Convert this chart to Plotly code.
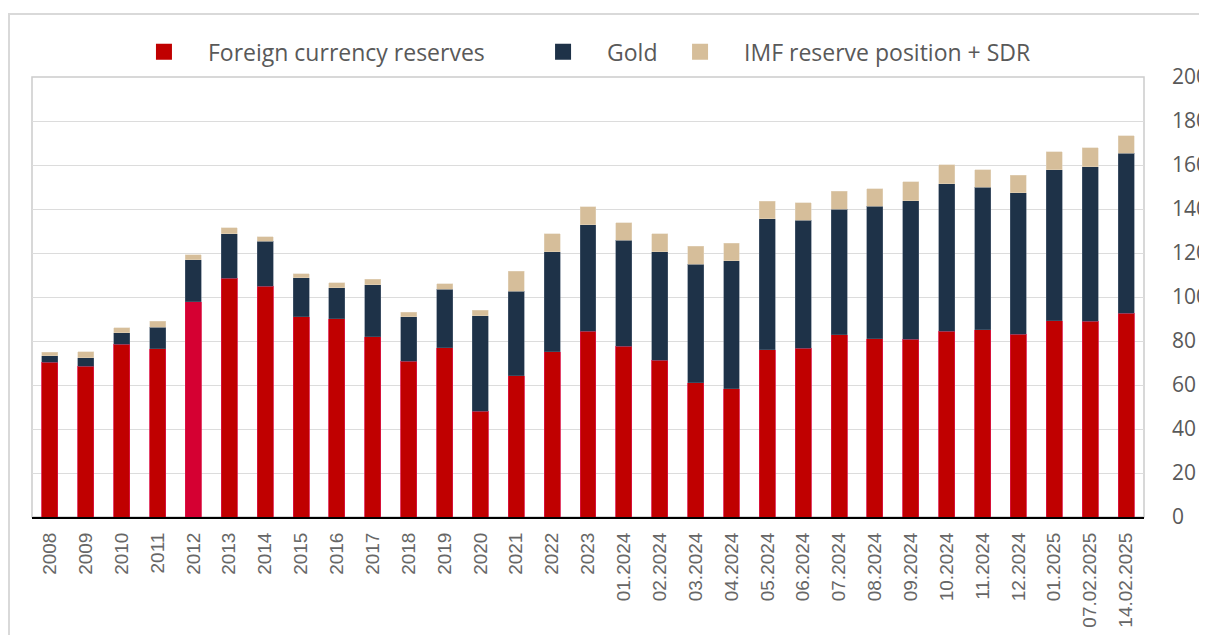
import plotly.graph_objects as go

# Catégories (années puis mois / dates)
periodes = ["2008", "2009", "2010", "2011", "2012", "2013", "2014", "2015", "2016", "2017",
            "2018", "2019", "2020", "2021", "2022", "2023",
            "01.2024", "02.2024", "03.2024", "04.2024", "05.2024", "06.2024", "07.2024",
            "08.2024", "09.2024", "10.2024", "11.2024", "12.2024",
            "01.2025", "07.02.2025", "14.02.2025"]

devises = [70.4, 68.6, 78.5, 76.4, 97.9, 108.5, 104.9, 91.0, 90.2, 82.0,
           70.7, 76.9, 48.1, 64.3, 75.1, 84.5,
           77.6, 71.3, 61.0, 58.4, 76.0, 76.7, 82.8,
           81.1, 80.7, 84.5, 85.1, 83.0,
           89.3, 88.9, 92.6]

or_ = [2.9, 3.9, 5.2, 9.9, 19.0, 20.2, 20.4, 17.7, 14.1, 23.6,
       20.3, 26.6, 43.3, 38.3, 45.5, 48.3,
       48.2, 49.3, 54.0, 58.0, 59.6, 58.2, 57.0,
       60.1, 63.1, 67.0, 64.7, 64.3,
       68.6, 70.3, 72.7]

fmi = [1.5, 2.7, 2.4, 2.6, 2.3, 2.7, 2.1, 1.9, 2.1, 2.5,
       2.1, 2.5, 2.6, 9.0, 8.1, 8.3,
       8.0, 8.1, 8.0, 8.0, 8.0, 8.0, 8.2,
       8.0, 8.5, 8.6, 8.1, 8.1,
       8.1, 8.7, 8.0]

noms = ["Foreign currency reserves", "Gold", "IMF reserve position + SDR"]
rouge, bleu, beige = "#C00000", "#1E3248", "#D6BE9A"

# la barre 2012 est d'un rouge un peu plus vif
couleurs_rouge = ["#D50032" if p == "2012" else rouge for p in periodes]

fig = go.Figure()
fig.add_trace(go.Bar(x=periodes, y=devises, name=noms[0], showlegend=False,
                     marker=dict(color=couleurs_rouge, line=dict(color="#DC1446", width=0.8))))
fig.add_trace(go.Bar(x=periodes, y=or_, name=noms[1], showlegend=False,
                     marker=dict(color=bleu, line=dict(color="#55657a", width=0.5))))
fig.add_trace(go.Bar(x=periodes, y=fmi, name=noms[2], showlegend=False,
                     marker=dict(color=beige, line=dict(color="#e4d6bf", width=0.5))))

# légende : une légende par série pour placer chaque entrée
legendes = ["legend", "legend2", "legend3"]
for nom, c, lg in zip(noms, [rouge, bleu, beige], legendes):
    fig.add_trace(go.Scatter(x=[None], y=[None], mode="markers", name=nom, legend=lg,
                             marker=dict(symbol="square", size=16, color=c)))

style_leg = dict(orientation="h", xanchor="left", y=1.057, yanchor="middle",
                 font=dict(size=23, family="Open Sans", color="#595959"),
                 itemwidth=78, bgcolor="rgba(0,0,0,0)")

# la page ajoute une marge de 8px autour du graphique
fig.update_layout(
    width=1199, height=627,
    margin=dict(l=24, r=63, t=69, b=118),
    barmode="stack",
    bargap=0.555,
    plot_bgcolor="white", paper_bgcolor="white",
    font=dict(family="Open Sans", color="#595959"),
    legend=dict(x=0.0791, **style_leg),
    legend2=dict(x=0.4380, **style_leg),
    legend3=dict(x=0.5612, **style_leg),
    showlegend=True,
)

fig.update_xaxes(
    type="category",
    tickangle=-90,
    tickfont=dict(family="Liberation Sans", size=19, color="#666666"),
    showgrid=False,
    showline=True, linecolor="black", linewidth=2,
    ticks="", ticklabelstandoff=6, automargin=False,
)
fig.update_yaxes(
    side="right",
    range=[0, 200], dtick=20,
    tickfont=dict(family="Open Sans", size=21, color="#595959"),
    showgrid=True, gridcolor="#dcdcdc", gridwidth=1,
    zeroline=False, showline=False,
    ticks="", ticklabelstandoff=27, automargin=False,
)

# cadre du graphique et cadre extérieur
fig.add_shape(type="rect", xref="paper", yref="paper", x0=0, x1=1, y0=0, y1=1,
              line=dict(color="#cccccc", width=1.5), layer="below")
fig.add_shape(type="rect", xref="paper", yref="paper", x0=-0.0207, x1=1.1, y0=-0.4, y1=1.143,
              line=dict(color="#d9d9d9", width=2), layer="below")

fig.write_html("out.html")
